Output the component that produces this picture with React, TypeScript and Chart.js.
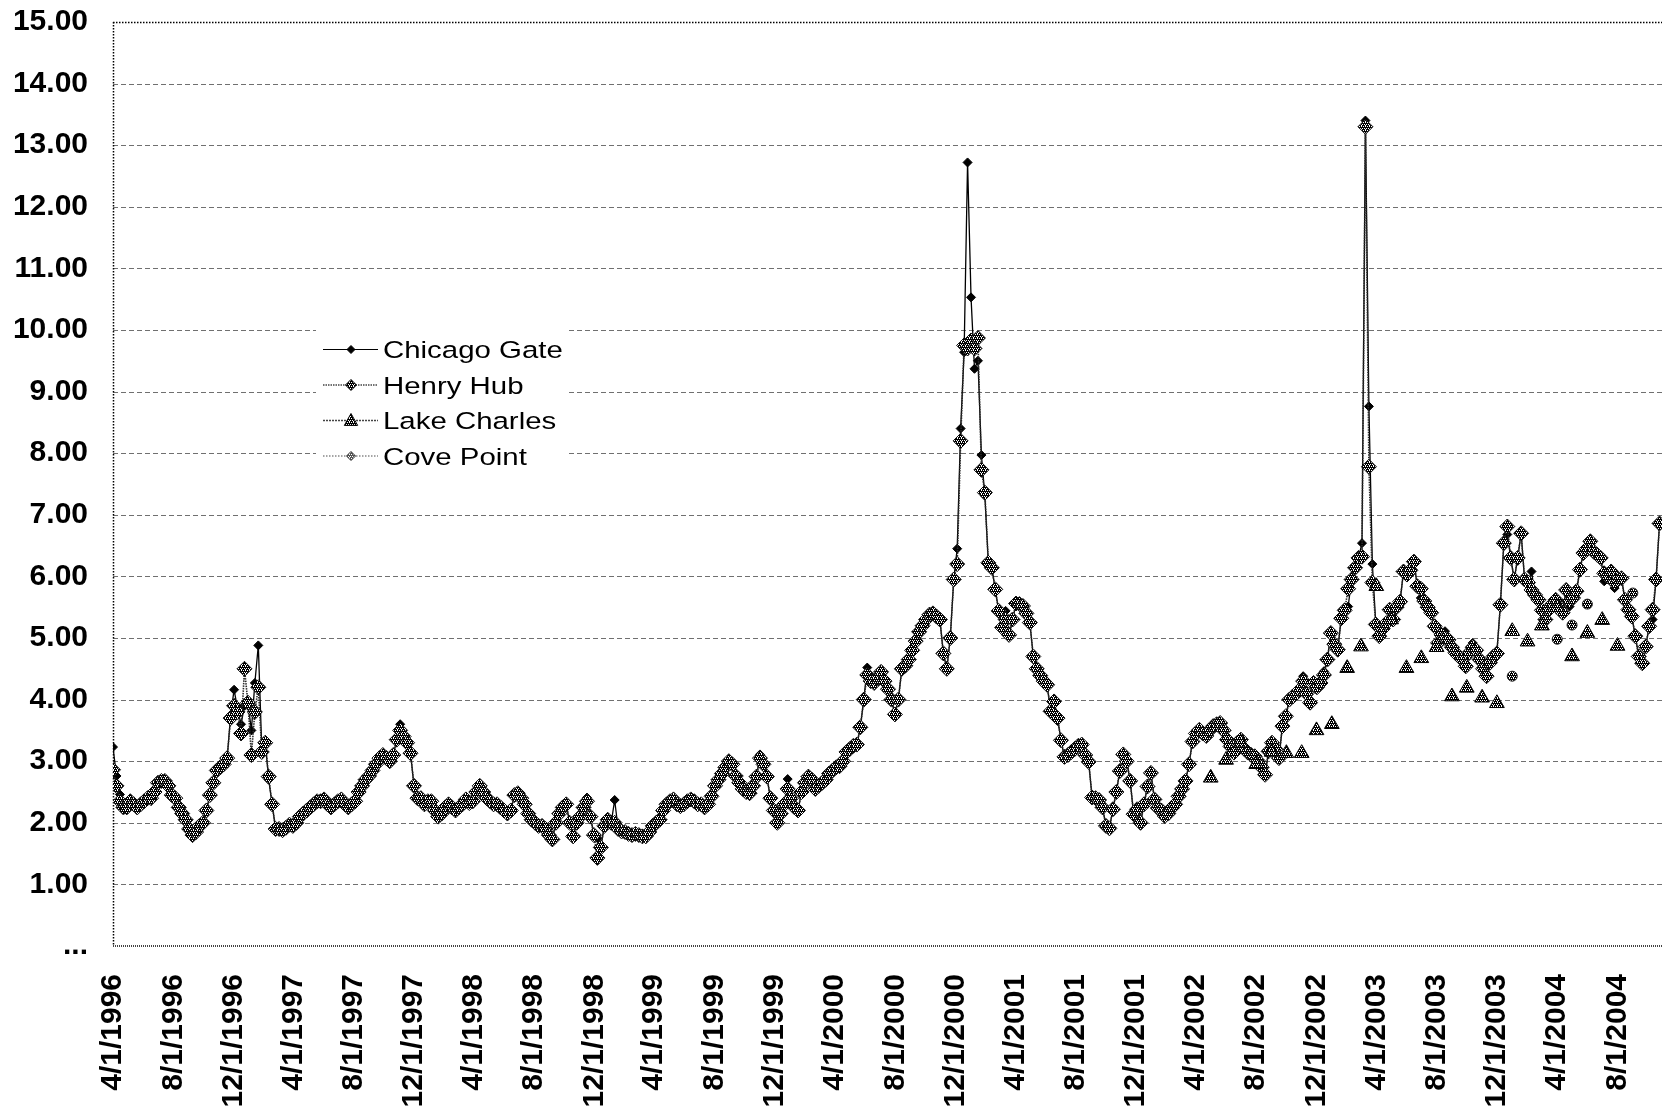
import React, { useEffect, useRef } from 'react';
import { Chart, registerables } from 'chart.js';

Chart.register(...registerables);

// ---------- data ----------
const SERIES_NAMES = ['Chicago Gate', 'Henry Hub', 'Lake Charles', 'Cove Point'];

const TICK_LABELS = [
  '4/1/1996', '8/1/1996', '12/1/1996', '4/1/1997', '8/1/1997', '12/1/1997',
  '4/1/1998', '8/1/1998', '12/1/1998', '4/1/1999', '8/1/1999', '12/1/1999',
  '4/1/2000', '8/1/2000', '12/1/2000', '4/1/2001', '8/1/2001', '12/1/2001',
  '4/1/2002', '8/1/2002', '12/1/2002', '4/1/2003', '8/1/2003', '12/1/2003',
  '4/1/2004', '8/1/2004',
];

const FIRST_WEEK = '4/1/1996';
const LAST_DAY = '10/30/2004';

// weekly prices, first value on 4/1/1996
const HENRY = [
  2.86, 2.6, 2.35, 2.25, 2.25, 2.35, 2.3, 2.25, 2.3, 2.35, 2.4, 2.4, 2.5,
  2.65, 2.68, 2.68, 2.6, 2.45, 2.4, 2.25, 2.15, 2.05, 1.9, 1.8, 1.85, 1.95,
  2.0, 2.2, 2.45, 2.65, 2.85, 2.9, 2.95, 3.05, 3.7, 3.9, 3.8, 3.45, 4.5,
  3.95, 3.1, 3.8, 4.2, 3.15, 3.3, 2.75, 2.3, 1.9, 1.9, 1.88, 1.92, 1.97,
  1.95, 2.0, 2.1, 2.15, 2.2, 2.25, 2.3, 2.35, 2.35, 2.38, 2.3, 2.25, 2.3,
  2.35, 2.38, 2.3, 2.25, 2.3, 2.35, 2.5, 2.6, 2.7, 2.76, 2.85, 2.95, 3.05,
  3.1, 3.05, 3.0, 3.1, 3.35, 3.5, 3.4, 3.3, 3.13, 2.6, 2.4, 2.4, 2.3,
  2.35, 2.35, 2.2, 2.1, 2.15, 2.25, 2.3, 2.25, 2.2, 2.25, 2.3, 2.38, 2.32,
  2.35, 2.5, 2.6, 2.5, 2.4, 2.35, 2.3, 2.3, 2.25, 2.2, 2.15, 2.2, 2.45,
  2.48, 2.4, 2.3, 2.15, 2.05, 2.0, 1.95, 1.95, 1.9, 1.8, 1.73, 2.0, 2.15,
  2.25, 2.3, 2.0, 1.78, 2.0, 2.1, 2.25, 2.35, 2.1, 1.8, 1.43, 1.6, 1.95,
  2.05, 2.0, 2.0, 1.9, 1.86, 1.85, 1.82, 1.8, 1.82, 1.8, 1.78, 1.78, 1.85,
  1.95, 2.0, 2.05, 2.2, 2.3, 2.35, 2.38, 2.3, 2.27, 2.3, 2.35, 2.38, 2.35,
  2.3, 2.3, 2.25, 2.3, 2.43, 2.6, 2.7, 2.8, 2.9, 3.0, 2.95, 2.76, 2.65,
  2.55, 2.5, 2.48, 2.6, 2.75, 3.05, 2.95, 2.75, 2.4, 2.2, 2.0, 2.15, 2.3,
  2.55, 2.4, 2.25, 2.2, 2.5, 2.65, 2.75, 2.7, 2.55, 2.6, 2.65, 2.7, 2.8,
  2.85, 2.9, 2.92, 3.0, 3.15, 3.2, 3.25, 3.27, 3.55, 4.0, 4.4, 4.3, 4.27,
  4.35, 4.45, 4.3, 4.17, 4.0, 3.76, 4.0, 4.5, 4.55, 4.65, 4.8, 4.95, 5.1,
  5.2, 5.3, 5.38, 5.4, 5.35, 5.3, 4.75, 4.5, 5.0, 5.95, 6.2, 8.2, 9.75,
  9.7, 9.83, 9.7, 9.87, 7.73, 7.36, 6.22, 6.14, 5.79, 5.44, 5.17, 5.3, 5.05,
  5.3, 5.56, 5.55, 5.52, 5.4, 5.25, 4.7, 4.5, 4.39, 4.3, 4.24, 3.81, 3.97,
  3.7, 3.34, 3.07, 3.1, 3.15, 3.2, 3.25, 3.27, 3.1, 2.99, 2.41, 2.4, 2.37,
  2.25, 1.95, 1.91, 2.22, 2.5, 2.84, 3.11, 3.0, 2.68, 2.14, 2.22, 2.0, 2.3,
  2.59, 2.81, 2.38, 2.24, 2.2, 2.11, 2.15, 2.24, 2.3, 2.43, 2.55, 2.68, 2.95,
  3.32, 3.45, 3.51, 3.45, 3.41, 3.5, 3.57, 3.6, 3.62, 3.5, 3.35, 3.24, 3.14,
  3.3, 3.35, 3.2, 3.14, 3.1, 3.08, 3.0, 2.9, 2.78, 3.16, 3.3, 3.2, 3.05,
  3.57, 3.73, 4.0, 4.05, 4.1, 4.16, 4.3, 4.1, 3.95, 4.27, 4.2, 4.27, 4.4,
  4.65, 5.08, 4.9, 4.81, 5.32, 5.45, 5.8, 5.95, 6.14, 6.3, 6.32, 13.3, 7.78,
  5.9, 5.22, 5.03, 5.15, 5.24, 5.46, 5.3, 5.5, 5.59, 6.08, 6.03, 6.1, 6.24,
  5.84, 5.8, 5.6, 5.5, 5.41, 5.19, 4.92, 5.05, 5.0, 4.97, 4.85, 4.76, 4.7,
  4.65, 4.54, 4.76, 4.85, 4.8, 4.65, 4.5, 4.38, 4.6, 4.7, 4.75, 5.54, 6.54,
  6.81, 6.3, 5.95, 6.3, 6.7, 5.95, 5.9, 5.78, 5.7, 5.62, 5.45, 5.3, 5.46,
  5.55, 5.62, 5.5, 5.41, 5.78, 5.6, 5.65, 5.76, 6.11, 6.38, 6.45, 6.57, 6.4,
  6.35, 6.3, 6.05, 6.0, 6.08, 5.9, 5.95, 5.97, 5.62, 5.46, 5.35, 5.03, 4.7,
  4.59, 4.86, 5.19, 5.46, 5.95, 6.86,
];

const CHICAGO = [
  3.23, 2.76, 2.46, 2.3, 2.25, 2.38, 2.3, 2.25, 2.3, 2.35, 2.4, 2.4, 2.5,
  2.65, 2.68, 2.68, 2.6, 2.45, 2.4, 2.25, 2.15, 2.05, 1.9, 1.8, 1.85, 1.95,
  2.0, 2.2, 2.45, 2.65, 2.85, 2.9, 2.95, 3.05, 3.75, 4.16, 3.85, 3.6, 3.9,
  3.95, 3.5, 4.27, 4.88, 3.2, 3.31, 2.7, 2.3, 1.9, 1.9, 1.88, 1.92, 1.97,
  1.95, 2.0, 2.1, 2.15, 2.2, 2.25, 2.3, 2.35, 2.35, 2.38, 2.3, 2.25, 2.3,
  2.35, 2.39, 2.3, 2.25, 2.3, 2.35, 2.5, 2.6, 2.7, 2.76, 2.85, 2.95, 3.05,
  3.1, 3.05, 3.0, 3.1, 3.35, 3.6, 3.4, 3.3, 3.13, 2.6, 2.4, 2.4, 2.3,
  2.35, 2.38, 2.2, 2.1, 2.15, 2.25, 2.3, 2.25, 2.2, 2.25, 2.3, 2.38, 2.32,
  2.35, 2.5, 2.6, 2.5, 2.4, 2.35, 2.3, 2.3, 2.25, 2.2, 2.15, 2.2, 2.45,
  2.48, 2.4, 2.3, 2.15, 2.05, 2.0, 1.95, 1.95, 1.9, 1.8, 1.73, 2.0, 2.15,
  2.25, 2.3, 2.0, 1.78, 2.0, 2.1, 2.25, 2.41, 2.1, 1.8, 1.75, 1.6, 1.95,
  2.05, 2.0, 2.37, 1.9, 1.86, 1.85, 1.82, 1.8, 1.82, 1.8, 1.78, 1.78, 1.85,
  1.95, 2.0, 2.05, 2.2, 2.3, 2.35, 2.38, 2.3, 2.27, 2.3, 2.35, 2.38, 2.35,
  2.3, 2.3, 2.25, 2.3, 2.43, 2.6, 2.7, 2.8, 2.9, 3.0, 2.95, 2.76, 2.65,
  2.55, 2.5, 2.48, 2.6, 2.75, 3.11, 2.95, 2.75, 2.4, 2.2, 2.0, 2.15, 2.3,
  2.71, 2.4, 2.25, 2.2, 2.5, 2.65, 2.75, 2.7, 2.55, 2.6, 2.65, 2.7, 2.8,
  2.85, 2.9, 2.92, 3.0, 3.15, 3.2, 3.25, 3.27, 3.55, 4.0, 4.52, 4.3, 4.27,
  4.35, 4.49, 4.3, 4.17, 4.0, 3.76, 4.0, 4.5, 4.55, 4.65, 4.8, 4.95, 5.1,
  5.2, 5.3, 5.38, 5.4, 5.35, 5.3, 4.75, 4.5, 5.0, 5.95, 6.45, 8.4, 9.64,
  12.72, 10.53, 9.37, 9.5, 7.97, 7.31, 6.22, 6.14, 5.79, 5.44, 5.17, 5.44, 5.05,
  5.3, 5.56, 5.55, 5.52, 5.4, 5.25, 4.7, 4.5, 4.39, 4.3, 4.24, 3.81, 3.97,
  3.7, 3.34, 3.07, 3.1, 3.15, 3.2, 3.25, 3.27, 3.1, 2.99, 2.41, 2.4, 2.37,
  2.25, 1.95, 1.91, 2.22, 2.5, 2.84, 3.11, 3.0, 2.68, 2.14, 2.22, 2.0, 2.3,
  2.59, 2.81, 2.38, 2.24, 2.2, 2.11, 2.15, 2.24, 2.3, 2.43, 2.55, 2.68, 2.95,
  3.32, 3.45, 3.51, 3.45, 3.41, 3.5, 3.57, 3.6, 3.62, 3.5, 3.35, 3.24, 3.14,
  3.3, 3.35, 3.2, 3.14, 3.1, 3.08, 3.0, 2.9, 2.78, 3.16, 3.3, 3.2, 3.05,
  3.57, 3.73, 4.0, 4.05, 4.1, 4.16, 4.38, 4.1, 3.95, 4.27, 4.2, 4.27, 4.46,
  4.65, 5.08, 4.9, 4.81, 5.32, 5.45, 5.51, 5.95, 6.14, 6.3, 6.54, 13.4, 8.76,
  6.2, 5.22, 5.03, 5.15, 5.24, 5.46, 5.3, 5.5, 5.59, 6.08, 6.03, 6.1, 6.24,
  5.84, 5.65, 5.6, 5.5, 5.41, 5.19, 4.92, 5.05, 5.11, 4.97, 4.85, 4.76, 4.7,
  4.65, 4.54, 4.76, 4.92, 4.8, 4.65, 4.5, 4.38, 4.6, 4.7, 4.78, 5.54, 6.54,
  6.68, 6.3, 5.95, 6.3, 6.7, 5.95, 5.9, 6.08, 5.7, 5.62, 5.45, 5.3, 5.46,
  5.55, 5.62, 5.5, 5.41, 5.78, 5.51, 5.65, 5.76, 6.11, 6.38, 6.45, 6.57, 6.4,
  6.35, 6.3, 5.92, 6.0, 6.08, 5.81, 5.95, 5.97, 5.62, 5.46, 5.35, 5.03, 4.7,
  4.59, 4.86, 5.19, 5.3, 5.95, 6.86,
];

// monthly observations
const LAKE_DATES = [
  '5/1/2002', '6/1/2002', '7/1/2002', '8/1/2002', '9/1/2002', '10/1/2002',
  '11/1/2002', '12/1/2002', '1/1/2003', '2/1/2003', '3/1/2003', '4/1/2003',
  '5/1/2003', '6/1/2003', '7/1/2003', '8/1/2003', '9/1/2003', '10/1/2003',
  '11/1/2003', '12/1/2003', '1/1/2004', '2/1/2004', '3/1/2004', '4/1/2004',
  '5/1/2004', '6/1/2004', '7/1/2004', '8/1/2004',
];
const LAKE = [
  2.73, 3.02, 3.3, 2.95, 3.15, 3.13,
  3.13, 3.5, 3.6, 4.51, 4.86, 5.84,
  5.3, 4.51, 4.67, 4.85, 4.05, 4.19,
  4.03, 3.94, 5.11, 4.94, 5.2, 5.5,
  4.7, 5.08, 5.29, 4.87,
];

const COVE_DATES = ['1/1/2004', '4/1/2004', '5/1/2004', '6/1/2004', '9/1/2004'];
const COVE = [4.38, 4.98, 5.21, 5.55, 5.73];

const Y_MIN = 0;
const Y_MAX = 15;

// ---------- helpers ----------
function dayOf(label: string): number {
  const [m, d, y] = label.split('/').map(Number);
  const [m0, d0, y0] = FIRST_WEEK.split('/').map(Number);
  return Math.round((Date.UTC(y, m - 1, d) - Date.UTC(y0, m0 - 1, d0)) / 86400000);
}

const TICK_DAYS = TICK_LABELS.map(dayOf);
const FONT = '"Liberation Sans", Arial, Helvetica, sans-serif';

// staggered dot-lattice hatch (white specks on dark)
function makePattern(ctx: CanvasRenderingContext2D, dark: string, light: string) {
  const pc = document.createElement('canvas');
  pc.width = 4;
  pc.height = 4;
  const g = pc.getContext('2d')!;
  g.fillStyle = dark;
  g.fillRect(0, 0, 4, 4);
  g.fillStyle = light;
  const cells = [[0, 0], [2, 0], [1, 2], [3, 2], [1, 1], [3, 3]];
  cells.slice(0, 5).forEach(([i, j]) => g.fillRect(i, j, 1, 1));
  return ctx.createPattern(pc, 'repeat')!;
}

function drawMarker(ctx: CanvasRenderingContext2D, shape: string, x: number, y: number, r: number) {
  ctx.beginPath();
  if (shape === 'rectRot') {
    ctx.moveTo(x, y - r);
    ctx.lineTo(x + r, y);
    ctx.lineTo(x, y + r);
    ctx.lineTo(x - r, y);
    ctx.closePath();
  } else if (shape === 'triangle') {
    ctx.moveTo(x, y - r);
    ctx.lineTo(x + r * 0.95, y + r * 0.7);
    ctx.lineTo(x - r * 0.95, y + r * 0.7);
    ctx.closePath();
  } else {
    ctx.arc(x, y, r, 0, Math.PI * 2);
  }
}

export default function App() {
  const ref = useRef<HTMLCanvasElement | null>(null);

  useEffect(() => {
    const canvas = ref.current;
    if (!canvas) return;
    const ctx = canvas.getContext('2d')!;
    const hatch = makePattern(ctx, '#000000', '#ffffff');
    const hatchLight = makePattern(ctx, '#555555', '#ffffff');

    const frame = {
      id: 'frame',
      beforeDatasetsDraw(chart: any) {
        const { ctx: c, chartArea: a, scales } = chart;
        const ys = scales.y;
        c.save();
        c.strokeStyle = '#707070';
        c.lineWidth = 1;
        c.setLineDash([5, 3]);
        for (let v = Y_MIN + 1; v < Y_MAX; v++) {
          const py = Math.round(ys.getPixelForValue(v)) + 0.5;
          c.beginPath();
          c.moveTo(a.left, py);
          c.lineTo(a.right, py);
          c.stroke();
        }
        c.strokeStyle = '#000000';
        c.lineWidth = 1.5;
        c.setLineDash([1.5, 1.5]);
        const top = Math.round(ys.getPixelForValue(Y_MAX)) + 0.5;
        c.beginPath();
        c.moveTo(a.left, top);
        c.lineTo(a.right, top);
        c.stroke();
        c.beginPath();
        c.moveTo(a.left + 0.5, a.top);
        c.lineTo(a.left + 0.5, a.bottom);
        c.stroke();
        c.strokeStyle = '#444444';
        c.lineWidth = 2;
        c.setLineDash([1, 1]);
        const bot = Math.round(ys.getPixelForValue(Y_MIN));
        c.beginPath();
        c.moveTo(a.left, bot);
        c.lineTo(a.right, bot);
        c.stroke();
        c.restore();
      },
    };

    const legend = {
      id: 'boxLegend',
      afterDatasetsDraw(chart: any) {
        const c = chart.ctx as CanvasRenderingContext2D;
        c.save();
        c.fillStyle = '#ffffff';
        c.fillRect(316, 326, 253, 152);
        const baselines = [358, 393.5, 429, 464.5];
        const styles = [
          { line: '#000000', dash: [] as number[], lw: 1.2, shape: 'rectRot', r: 4, fill: '#000000' as any, stroke: '#000000' as any },
          { line: '#444444', dash: [1.5, 1], lw: 1.5, shape: 'rectRot', r: 5.5, fill: hatch, stroke: '#000000' },
          { line: '#444444', dash: [2, 1], lw: 1.5, shape: 'triangle', r: 7, fill: hatch, stroke: '#000000' },
          { line: '#888888', dash: [1.5, 1.5], lw: 1.5, shape: 'rectRot', r: 4.5, fill: hatchLight, stroke: '#333333' },
        ];
        SERIES_NAMES.forEach((name, i) => {
          const s = styles[i];
          const cy = baselines[i] - 8.5;
          c.strokeStyle = s.line;
          c.lineWidth = s.lw;
          c.setLineDash(s.dash);
          c.beginPath();
          c.moveTo(323, cy);
          c.lineTo(378, cy);
          c.stroke();
          c.setLineDash([]);
          drawMarker(c, s.shape, 351, cy, s.r);
          c.fillStyle = s.fill;
          c.fill();
          c.lineWidth = 1;
          c.strokeStyle = s.stroke;
          c.stroke();
          c.save();
          c.translate(383, baselines[i]);
          c.scale(1.2, 1);
          c.fillStyle = '#000000';
          c.font = `24.5px ${FONT}`;
          c.textAlign = 'left';
          c.textBaseline = 'alphabetic';
          c.fillText(name, 0, 0);
          c.restore();
        });
        c.restore();
      },
    };

    const weekly = (arr: number[]) => arr.map((y, i) => ({ x: i * 7, y }));
    const dated = (dates: string[], arr: number[]) => arr.map((y, i) => ({ x: dayOf(dates[i]), y }));

    const chart = new Chart(canvas, {
      type: 'line',
      data: {
        datasets: [
          {
            label: SERIES_NAMES[0],
            data: weekly(CHICAGO),
            borderColor: '#000000',
            borderWidth: 1.3,
            pointStyle: 'rectRot',
            pointRadius: 4.5,
            pointBackgroundColor: '#000000',
            pointBorderColor: '#000000',
            pointBorderWidth: 1,
            order: 4,
          },
          {
            label: SERIES_NAMES[1],
            data: weekly(HENRY),
            borderColor: '#2a2a2a',
            borderWidth: 1.6,
            borderDash: [1.5, 1],
            pointStyle: 'rectRot',
            pointRadius: 7.5,
            pointBackgroundColor: hatch,
            pointBorderColor: '#111111',
            pointBorderWidth: 1,
            order: 3,
          },
          {
            label: SERIES_NAMES[2],
            data: dated(LAKE_DATES, LAKE),
            showLine: false,
            pointStyle: 'triangle',
            pointRadius: 8.5,
            pointBackgroundColor: hatch,
            pointBorderColor: '#000000',
            pointBorderWidth: 1,
            order: 2,
          },
          {
            label: SERIES_NAMES[3],
            data: dated(COVE_DATES, COVE),
            showLine: false,
            pointStyle: 'circle',
            pointRadius: 5,
            pointBackgroundColor: hatch,
            pointBorderColor: '#222222',
            pointBorderWidth: 1,
            order: 1,
          },
        ],
      },
      options: {
        responsive: false,
        animation: false,
        events: [],
        layout: { autoPadding: false, padding: { top: 22, right: 0, left: 0, bottom: 0 } },
        plugins: { legend: { display: false }, tooltip: { enabled: false } },
        scales: {
          x: {
            type: 'linear',
            min: 0,
            max: dayOf(LAST_DAY),
            grid: { display: false, drawTicks: true, tickLength: 25 },
            border: { display: false },
            afterBuildTicks: (scale: any) => {
              scale.ticks = TICK_DAYS.map((v) => ({ value: v }));
            },
            afterFit: (scale: any) => {
              scale.height = 164;
              scale.paddingLeft = 0;
              scale.paddingRight = 0;
            },
            ticks: {
              autoSkip: false,
              maxRotation: 90,
              minRotation: 90,
              padding: 3,
              color: '#000000',
              font: { family: FONT, size: 30, weight: 'bold' },
              callback: (_v: any, i: number) => TICK_LABELS[i],
            },
          },
          y: {
            min: Y_MIN,
            max: Y_MAX,
            grid: { display: false, drawTicks: true, tickLength: 22 },
            border: { display: false },
            afterFit: (scale: any) => {
              scale.width = 113;
              scale.paddingTop = 0;
              scale.paddingBottom = 0;
            },
            ticks: {
              stepSize: 1,
              padding: 3,
              color: '#000000',
              font: { family: FONT, size: 30, weight: 'bold' },
              callback: (v: any) => (Number(v) === 0 ? '...' : Number(v).toFixed(2)),
            },
          },
        },
      },
      plugins: [frame, legend],
    } as any);

    return () => chart.destroy();
  }, []);

  return (
    <canvas
      ref={ref}
      width={1662}
      height={1110}
      style={{ position: 'absolute', left: 0, top: 0, width: 1662, height: 1110 }}
    />
  );
}
